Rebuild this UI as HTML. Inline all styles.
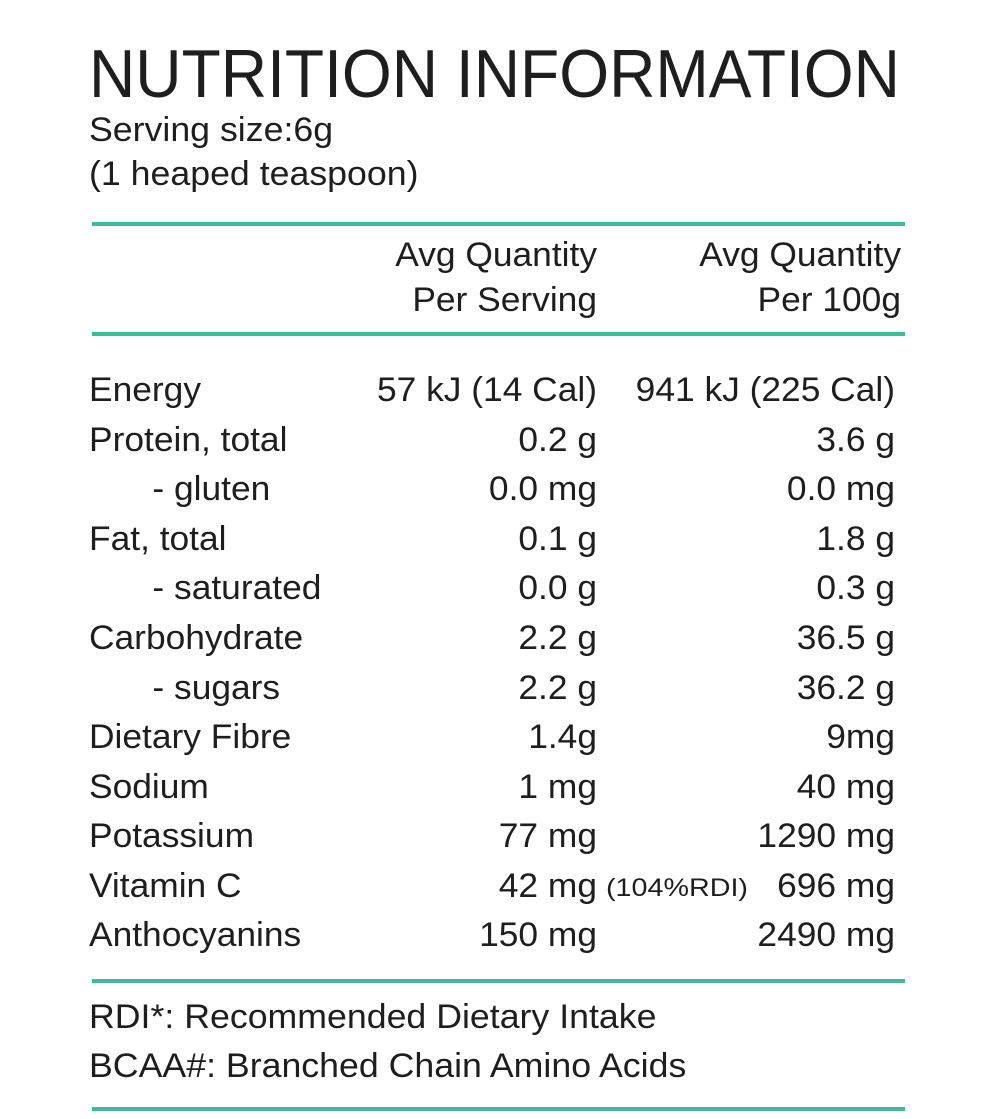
<!DOCTYPE html>
<html><head><style>
html,body{margin:0;padding:0;background:#fff}
svg text{font-family:"Liberation Sans",Arial,sans-serif;fill:#1e1e1e}
</style></head><body>
<svg width="1000" height="1114" viewBox="0 0 1000 1114" xmlns="http://www.w3.org/2000/svg">
<text x="89" y="97" font-size="68" textLength="811" lengthAdjust="spacingAndGlyphs">NUTRITION INFORMATION</text>
<g transform="translate(89,0) scale(1.05,1) translate(-89,0)" font-size="34">
<text x="89" y="141">Serving size:6g</text>
<text x="89" y="185">(1 heaped teaspoon)</text>
</g>
<rect x="92" y="222" width="813" height="4" fill="#3dbb9a"/>
<g font-size="34" text-anchor="end">
<g transform="translate(597,0) scale(1.04,1) translate(-597,0)">
<text x="597" y="266">Avg Quantity</text>
<text x="597" y="311">Per Serving</text>
</g>
<g transform="translate(901,0) scale(1.04,1) translate(-901,0)">
<text x="901" y="266">Avg Quantity</text>
<text x="901" y="311">Per 100g</text>
</g>
</g>
<rect x="92" y="332" width="813" height="4" fill="#3dbb9a"/>
<g font-size="34" transform="translate(89,0) scale(1.04,1) translate(-89,0)">
<text x="89" y="401">Energy</text>
<text x="89" y="451">Protein, total</text>
<text x="150" y="500">- gluten</text>
<text x="89" y="550">Fat, total</text>
<text x="150" y="599">- saturated</text>
<text x="89" y="649">Carbohydrate</text>
<text x="150" y="699">- sugars</text>
<text x="89" y="748">Dietary Fibre</text>
<text x="89" y="798">Sodium</text>
<text x="89" y="847">Potassium</text>
<text x="89" y="897">Vitamin C</text>
<text x="89" y="946">Anthocyanins</text>
</g>
<g font-size="34" text-anchor="end" transform="translate(597,0) scale(1.04,1) translate(-597,0)">
<text x="597" y="401">57 kJ (14 Cal)</text>
<text x="597" y="451">0.2 g</text>
<text x="597" y="500">0.0 mg</text>
<text x="597" y="550">0.1 g</text>
<text x="597" y="599">0.0 g</text>
<text x="597" y="649">2.2 g</text>
<text x="597" y="699">2.2 g</text>
<text x="597" y="748">1.4g</text>
<text x="597" y="798">1 mg</text>
<text x="597" y="847">77 mg</text>
<text x="597" y="897">42 mg</text>
<text x="597" y="946">150 mg</text>
</g>
<g font-size="34" text-anchor="end" transform="translate(895,0) scale(1.04,1) translate(-895,0)">
<text x="895" y="401">941 kJ (225 Cal)</text>
<text x="895" y="451">3.6 g</text>
<text x="895" y="500">0.0 mg</text>
<text x="895" y="550">1.8 g</text>
<text x="895" y="599">0.3 g</text>
<text x="895" y="649">36.5 g</text>
<text x="895" y="699">36.2 g</text>
<text x="895" y="748">9mg</text>
<text x="895" y="798">40 mg</text>
<text x="895" y="847">1290 mg</text>
<text x="895" y="897">696 mg</text>
<text x="895" y="946">2490 mg</text>
</g>
<text x="606" y="896" font-size="25" textLength="142" lengthAdjust="spacingAndGlyphs">(104%RDI)</text>
<rect x="92" y="979" width="813" height="4" fill="#3dbb9a"/>
<g font-size="34" transform="translate(89,0) scale(1.05,1) translate(-89,0)">
<text x="89" y="1028">RDI*: Recommended Dietary Intake</text>
<text x="89" y="1077">BCAA#: Branched Chain Amino Acids</text>
</g>
<rect x="92" y="1107" width="813" height="4" fill="#3dbb9a"/>
</svg>
</body></html>
